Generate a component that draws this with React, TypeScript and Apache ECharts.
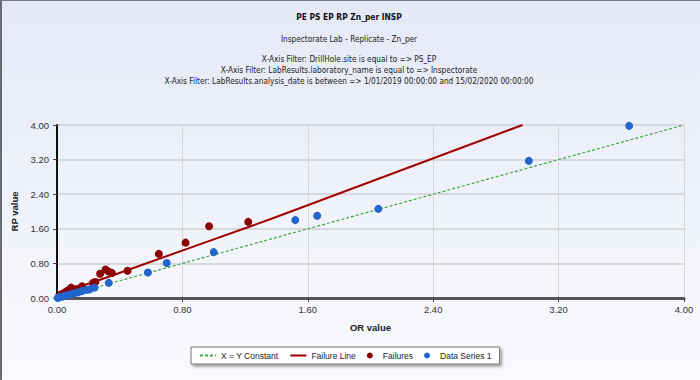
import React, { useEffect, useRef } from "react";
import * as echarts from "echarts";

const titleText = "PE PS EP RP Zn_per INSP";
const subtitleLines = [
  "Inspectorate Lab - Replicate - Zn_per",
  "X-Axis Filter: DrillHole.site is equal to => PS_EP",
  "X-Axis Filter: LabResults.laboratory_name is equal to => Inspectorate",
  "X-Axis Filter: LabResults.analysis_date is between => 1/01/2019 00:00:00 and 15/02/2020 00:00:00",
];
const subtitleY = [39, 59, 70, 81];
const axisTicks = [0, 0.8, 1.6, 2.4, 3.2, 4.0];
const xyConstant = [
  [0, 0],
  [4, 4],
];
const failureLine = [
  [0, 0.08],
  [0.33, 0.49],
  [0.91, 1.24],
  [1.36, 1.82],
  [2.97, 4.0],
];
const failures = [
  [0.015, 0.06], [0.03, 0.09], [0.05, 0.13], [0.07, 0.18], [0.09, 0.24],
  [0.125, 0.21], [0.16, 0.27], [0.23, 0.35], [0.245, 0.37], [0.275, 0.56],
  [0.31, 0.66], [0.33, 0.61], [0.35, 0.58], [0.45, 0.63], [0.65, 1.02],
  [0.82, 1.28], [0.97, 1.66], [1.22, 1.76],
];
const dataSeries1 = [
  [0.005, 0.0], [0.015, 0.02], [0.03, 0.03], [0.05, 0.05], [0.07, 0.07],
  [0.09, 0.09], [0.11, 0.11], [0.135, 0.13], [0.16, 0.16], [0.19, 0.19],
  [0.21, 0.2], [0.24, 0.24], [0.33, 0.35], [0.58, 0.59], [0.7, 0.81],
  [1.0, 1.06], [1.52, 1.8], [1.66, 1.9], [2.05, 2.06], [3.01, 3.17],
  [3.65, 3.98],
];

const COND = "'DejaVu Sans Condensed', 'Liberation Sans', Arial, sans-serif";
const SANS = "'Liberation Sans', Arial, sans-serif";

export default function App() {
  const ref = useRef<HTMLDivElement>(null);
  useEffect(() => {
    if (!ref.current) return;
    const chart = echarts.init(ref.current, undefined, { renderer: "svg" });
    const axisCommon = {
      type: "value",
      min: axisTicks[0],
      max: axisTicks[axisTicks.length - 1],
      interval: 0.8,
      axisLabel: {
        formatter: (v: number) => v.toFixed(2),
        color: "#333",
        fontFamily: SANS,
        fontSize: 9.5,
      },
      axisTick: { show: true, length: 4, lineStyle: { color: "#444" } },
      nameTextStyle: {
        fontFamily: SANS,
        fontWeight: "bold",
        fontSize: 9.5,
        color: "#222",
      },
    };
    chart.setOption({
      animation: false,
      backgroundColor: "transparent",
      graphic: [
        {
          type: "text",
          x: 349,
          y: 17,
          style: {
            text: titleText,
            font: `bold 8.4px ${COND}`,
            fill: "#111",
            align: "center",
            verticalAlign: "middle",
            textAlign: "center",
            textVerticalAlign: "middle",
          },
        },
        ...subtitleLines.map((t, i) => ({
          type: "text",
          x: 349,
          y: subtitleY[i],
          style: {
            text: t,
            font: `8.2px ${COND}`,
            fill: "#222",
            align: "center",
            verticalAlign: "middle",
            textAlign: "center",
            textVerticalAlign: "middle",
          },
        })),
      ],
      legend: {
        left: 191,
        top: 347,
        padding: [4, 8, 4, 8],
        backgroundColor: "#ffffff",
        borderColor: "#777",
        borderWidth: 1,
        shadowColor: "rgba(0,0,0,0.4)",
        shadowBlur: 3,
        shadowOffsetX: 2,
        shadowOffsetY: 2,
        itemGap: 11,
        itemWidth: 16,
        itemHeight: 6,
        textStyle: { fontFamily: SANS, fontSize: 8.5, color: "#222" },
        data: [
          { name: "X = Y Constant", itemStyle: { opacity: 0 } },
          { name: "Failure Line", itemStyle: { opacity: 0 } },
          { name: "Failures", icon: "circle" },
          { name: "Data Series 1", icon: "circle" },
        ],
      },
      grid: { left: 57, right: 16, top: 125, bottom: 82, containLabel: false },
      xAxis: {
        ...axisCommon,
        name: "OR value",
        nameLocation: "middle",
        nameGap: 24,
        axisLine: { show: true, onZero: false, lineStyle: { color: "#555", width: 3 } },
        splitLine: { show: true, lineStyle: { color: "#d6d6dc", width: 1 } },
        axisLabel: { ...axisCommon.axisLabel, margin: 6 },
      },
      yAxis: {
        ...axisCommon,
        name: "RP value",
        nameLocation: "middle",
        nameGap: 38,
        axisLine: { show: true, onZero: false, lineStyle: { color: "#111", width: 2 } },
        splitLine: { show: true, lineStyle: { color: "#cfcfd6", width: 1.5 } },
        axisLabel: { ...axisCommon.axisLabel, margin: 8 },
      },
      series: [
        {
          name: "X = Y Constant",
          type: "line",
          data: xyConstant,
          symbol: "none",
          lineStyle: { color: "#3da83d", width: 1.2, type: [3, 2] },
          itemStyle: { color: "#3da83d" },
          z: 3,
        },
        {
          name: "Failure Line",
          type: "line",
          data: failureLine,
          symbol: "none",
          lineStyle: { color: "#a00000", width: 2 },
          itemStyle: { color: "#a00000" },
          z: 3,
        },
        {
          name: "Failures",
          type: "scatter",
          data: failures,
          symbolSize: 8,
          itemStyle: { color: "#8b0000", opacity: 1 },
          z: 4,
        },
        {
          name: "Data Series 1",
          type: "scatter",
          data: dataSeries1,
          symbolSize: 8,
          itemStyle: { color: "#2266cc", opacity: 1 },
          z: 5,
        },
      ],
    });
    return () => chart.dispose();
  }, []);
  return (
    <div
      style={{
        position: "fixed",
        left: 0,
        top: 0,
        width: 700,
        height: 380,
        boxSizing: "border-box",
        borderLeft: "2px solid #6a6a76",
        borderTop: "1px solid #7a7a86",
        background: "linear-gradient(180deg, #e5e9f7 0%, #eef1f9 45%, #f9fafd 100%)",
      }}
    >
      <div ref={ref} style={{ position: "absolute", left: -2, top: -1, width: 700, height: 380 }} />
    </div>
  );
}
